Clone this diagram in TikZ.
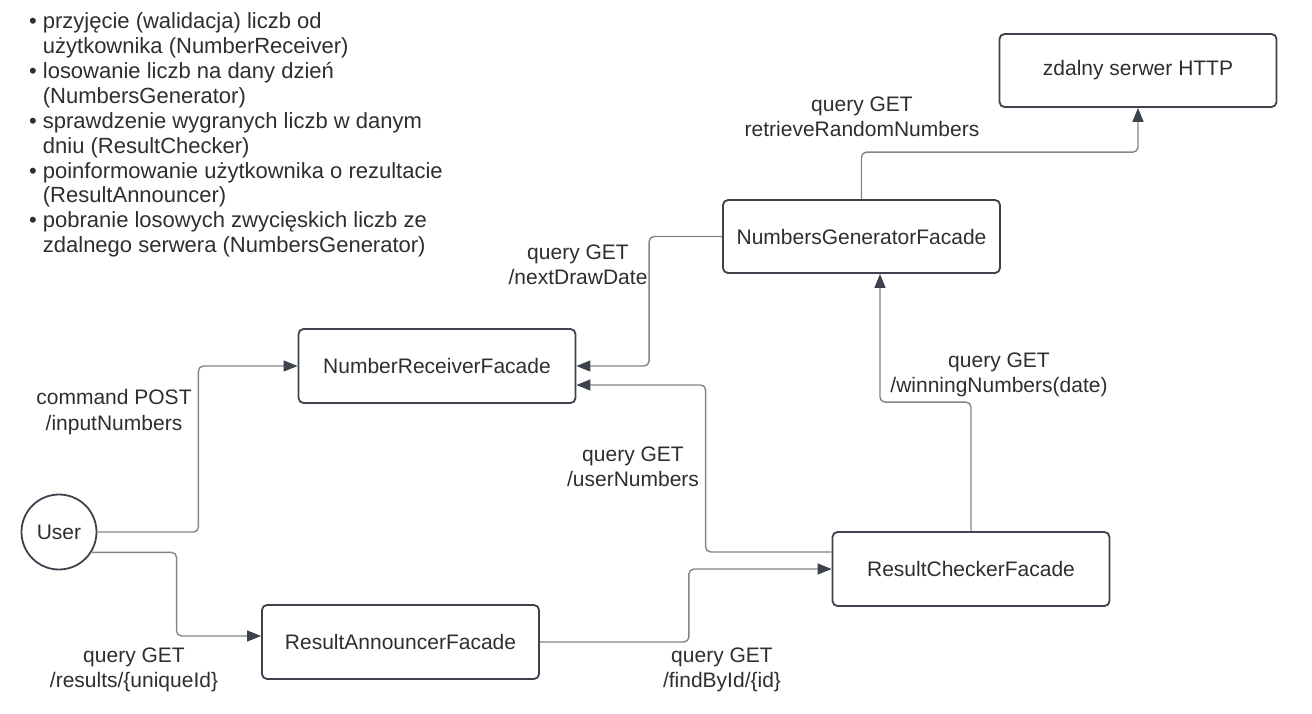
\documentclass[tikz,border=0pt]{standalone}
\usepackage{fontspec}
\setmainfont{Liberation Sans}
\usetikzlibrary{arrows.meta}
\definecolor{boxline}{HTML}{3D434C}
\definecolor{conline}{HTML}{80858C}
\definecolor{txt}{HTML}{2E2E2E}
\tikzset{
 facade/.style={draw=boxline, line width=1.8pt, rounded corners=5pt, minimum width=277pt, minimum height=74pt, text=txt, inner sep=0pt},
 actor/.style={circle, draw=boxline, line width=1.8pt, minimum size=75pt, inner sep=0pt, text=txt},
 conn/.style={draw=conline, line width=1.4pt, rounded corners=5pt, -{Triangle[length=14pt,width=11pt,color=boxline]}},
 lbl/.style={align=center, text=txt, inner sep=0pt}
}
\begin{document}
\begin{tikzpicture}[x=1pt, y=-1pt, font=\fontsize{21}{25.3}\selectfont]
\useasboundingbox (0,0) rectangle (1312,713);
% goals of the system
\node[anchor=north west, inner sep=0pt, text=txt, font=\fontsize{22}{24.9}\selectfont] (goals) at (29,11) {\begin{tabular}{@{}l@{\hspace{6pt}}l@{}}
•&przyjęcie (walidacja) liczb od\\
&użytkownika (NumberReceiver)\\
•&losowanie liczb na dany dzień\\
&(NumbersGenerator)\\
•&sprawdzenie wygranych liczb w danym\\
&dniu (ResultChecker)\\
•&poinformowanie użytkownika o rezultacie\\
&(ResultAnnouncer)\\
•&pobranie losowych zwycięskich liczb ze\\
&zdalnego serwera (NumbersGenerator)
\end{tabular}};
% modules
\node[facade, minimum height=73pt] (http) at (1138,70.5) {zdalny serwer HTTP};
\node[facade, minimum height=73pt] (ngf) at (861.5,236.5) {NumbersGeneratorFacade};
\node[facade] (nrf) at (437,366) {NumberReceiverFacade};
\node[facade] (rcf) at (971,569) {ResultCheckerFacade};
\node[facade] (raf) at (400.5,642) {ResultAnnouncerFacade};
\node[actor] (user) at (59,532) {User};
% calls
\draw[conn] (user.east) -- ++(101,0) |- (nrf.west);
\draw[conn] (user.-32) -- ++(85,0) |- ([yshift=6pt]raf.west);
\draw[conn] (raf.east) -- ++(149,0) |- (rcf.west);
\draw[conn] ([yshift=17pt]rcf.west) -- ++(-126,0) |- ([yshift=-19pt]nrf.east);
\draw[conn] (ngf.west) -- ++(-73,0) |- (nrf.east);
\draw[conn] (rcf.north) -- ++(0,-129) -| ([xshift=18.5pt]ngf.south);
\draw[conn] (ngf.north) -- ++(0,-47) -| (http.south);
% labels
\node[lbl] (lretrieve) at (862,117) {query GET\\retrieveRandomNumbers};
\node[lbl] (ldraw) at (578,265) {query GET\\/nextDrawDate};
\node[lbl] (linput) at (114,412) {command POST\\/inputNumbers};
\node[lbl] (luser) at (633,467) {query GET\\/userNumbers};
\node[lbl] (lwin) at (999,375) {query GET\\/winningNumbers(date)};
\node[lbl] (lresult) at (134,670) {query GET\\/results/\{uniqueId\}};
\node[lbl] (lfind) at (722,670) {query GET\\/findById/\{id\}};
\end{tikzpicture}
\end{document}
